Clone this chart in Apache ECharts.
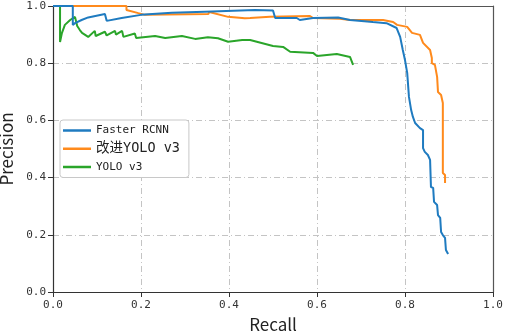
<!DOCTYPE html>
<html>
<head>
<meta charset="utf-8">
<script src="https://cdn.jsdelivr.net/npm/echarts@6/dist/echarts.min.js"></script>
<style>
  html, body { margin: 0; padding: 0; background: #fff; }
  #main { width: 505px; height: 334px; }
</style>
</head>
<body>
<div id="main"></div>
<script>
// series names
var seriesNames = ['Faster RCNN', '改进YOLO v3', 'YOLO v3'];

// [recall, precision] pairs
var fasterRcnn = [
	[0, 1.0], [0.045, 1.0], [0.045, 0.934], [0.05, 0.94], [0.065, 0.951], [0.08, 0.96],
	[0.118, 0.972], [0.122, 0.948], [0.156, 0.958], [0.2, 0.969], [0.27, 0.976],
	[0.345, 0.98], [0.459, 0.986], [0.5, 0.984], [0.505, 0.958], [0.554, 0.958],
	[0.561, 0.951], [0.591, 0.958], [0.648, 0.96], [0.675, 0.951], [0.727, 0.944],
	[0.758, 0.94], [0.781, 0.923], [0.789, 0.892], [0.795, 0.846], [0.8, 0.811],
	[0.805, 0.766], [0.809, 0.682], [0.814, 0.636], [0.818, 0.612], [0.823, 0.591],
	[0.834, 0.573], [0.841, 0.566], [0.841, 0.503], [0.845, 0.49], [0.852, 0.479],
	[0.857, 0.462], [0.859, 0.367], [0.864, 0.364], [0.866, 0.315], [0.873, 0.304],
	[0.875, 0.269], [0.88, 0.259], [0.882, 0.21], [0.886, 0.199], [0.891, 0.189],
	[0.893, 0.147], [0.898, 0.133]
];
var improvedYolo = [
	[0, 1.0], [0.167, 1.0], [0.167, 0.986], [0.194, 0.975], [0.209, 0.969],
	[0.353, 0.972], [0.355, 0.979], [0.398, 0.962], [0.436, 0.957], [0.448, 0.958],
	[0.493, 0.962], [0.584, 0.965], [0.591, 0.958], [0.652, 0.955], [0.675, 0.951],
	[0.75, 0.951], [0.773, 0.944], [0.782, 0.934], [0.805, 0.927], [0.816, 0.906],
	[0.834, 0.899], [0.841, 0.871], [0.857, 0.846], [0.861, 0.818], [0.861, 0.8],
	[0.868, 0.794], [0.873, 0.752], [0.875, 0.699], [0.882, 0.689], [0.886, 0.661],
	[0.886, 0.416], [0.891, 0.409], [0.891, 0.381]
];
var yoloV3 = [
	[0, 1.0], [0.016, 1.0], [0.016, 0.874], [0.02, 0.904], [0.027, 0.934], [0.039, 0.951],
	[0.05, 0.962], [0.055, 0.93], [0.061, 0.916], [0.066, 0.906], [0.08, 0.892],
	[0.095, 0.913], [0.097, 0.895], [0.118, 0.91], [0.122, 0.897], [0.141, 0.913],
	[0.143, 0.9], [0.157, 0.913], [0.16, 0.892], [0.186, 0.904], [0.189, 0.888],
	[0.232, 0.895], [0.255, 0.888], [0.293, 0.895], [0.323, 0.885], [0.352, 0.891],
	[0.375, 0.887], [0.398, 0.875], [0.43, 0.881], [0.448, 0.881], [0.5, 0.86],
	[0.523, 0.857], [0.539, 0.84], [0.591, 0.836], [0.6, 0.825], [0.645, 0.832],
	[0.675, 0.822], [0.682, 0.794]
];

var colors = ['#1f7bc0', '#ff8a1c', '#2aa52a'];
var tickFont = 'DejaVu Sans Mono';

var gridLine = { show: true, lineStyle: { color: '#c4c4c4', width: 1, type: [6, 3, 1, 3] } };
var axisLine = { show: true, onZero: false, lineStyle: { color: '#333', width: 1.2 } };
var frameLine = { show: true, onZero: false, lineStyle: { color: '#555', width: 1.2 } };
var tickStyle = { show: true, inside: false, length: 5, lineStyle: { color: '#333' } };
var fmt = function (v) { return v.toFixed(1); };

var chart = echarts.init(document.getElementById('main'));
var option = {
	animation: false,
	color: colors,
	grid: {
		left: 53, right: 12, top: 6, bottom: 42,
		outerBoundsMode: 'none', containLabel: false
	},
	legend: {
		data: seriesNames,
		orient: 'vertical',
		left: 60, top: 120,
		icon: 'rect',
		itemWidth: 28, itemHeight: 2.5,
		itemGap: 6,
		padding: [5, 9, 5, 3],
		borderColor: '#c8c8c8', borderWidth: 1, borderRadius: 3,
		backgroundColor: '#fff',
		formatter: function (name) {
			// the second row is printed larger in the original
			return name.indexOf('改进') === 0 ? '{big|' + name + '}' : name;
		},
		textStyle: {
			fontFamily: tickFont, fontSize: 11, color: '#222',
			rich: { big: { fontFamily: tickFont + ', Noto Sans CJK SC', fontSize: 13.5, color: '#222' } }
		}
	},
	xAxis: [{
		type: 'value', min: 0, max: 1, interval: 0.2,
		name: 'Recall', nameLocation: 'middle', nameGap: 23,
		nameTextStyle: { fontFamily: 'Noto Sans CJK SC', fontSize: 17, color: '#222' },
		axisLine: axisLine,
		axisTick: tickStyle,
		axisLabel: { fontFamily: tickFont, fontSize: 11, color: '#333', margin: 8, formatter: fmt },
		splitLine: gridLine
	}, {
		type: 'value', min: 0, max: 1, position: 'top',
		axisLine: frameLine, axisTick: { show: false }, axisLabel: { show: false }, splitLine: { show: false }
	}],
	yAxis: [{
		type: 'value', min: 0, max: 1, interval: 0.2,
		name: 'Precision', nameLocation: 'middle', nameGap: 35,
		nameTextStyle: { fontFamily: 'Noto Sans CJK SC', fontSize: 17, color: '#222' },
		axisLine: axisLine,
		axisTick: tickStyle,
		axisLabel: { fontFamily: tickFont, fontSize: 11, color: '#333', margin: 7, formatter: fmt },
		splitLine: gridLine
	}, {
		type: 'value', min: 0, max: 1, position: 'right',
		axisLine: frameLine, axisTick: { show: false }, axisLabel: { show: false }, splitLine: { show: false }
	}],
	series: [
		{ name: seriesNames[0], type: 'line', data: fasterRcnn, showSymbol: false, lineStyle: { width: 2 }, z: 3 },
		{ name: seriesNames[1], type: 'line', data: improvedYolo, showSymbol: false, lineStyle: { width: 2 }, z: 2 },
		{ name: seriesNames[2], type: 'line', data: yoloV3, showSymbol: false, lineStyle: { width: 2 }, z: 1 }
	]
};
chart.setOption(option);
</script>
</body>
</html>
